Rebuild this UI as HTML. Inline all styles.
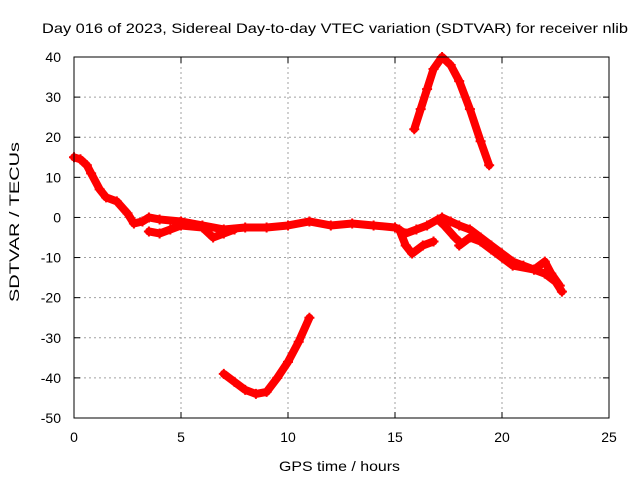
<!DOCTYPE html>
<html><head><meta charset="utf-8"><style>
body{margin:0;background:#fff}
svg{display:block;font-family:"Liberation Sans",sans-serif}
</style></head><body>
<svg id="c" width="640" height="480" xmlns="http://www.w3.org/2000/svg">
<text x="42" y="33" font-size="14" textLength="586" lengthAdjust="spacingAndGlyphs">Day 016 of 2023, Sidereal Day-to-day VTEC variation (SDTVAR) for receiver nlib</text>
<text x="279" y="471" font-size="14" textLength="121" lengthAdjust="spacingAndGlyphs">GPS time / hours</text>
<text transform="translate(19,302) rotate(-90)" font-size="14" textLength="160" lengthAdjust="spacingAndGlyphs">SDTVAR / TECUs</text>
<g id="grid"></g><g id="ticks"></g><g id="marks"></g>
<rect x="74" y="57" width="535" height="361" fill="none" stroke="#000" stroke-width="1"/>
</svg>
<script>
const xTicks=[0,5,10,15,20,25];
const yTicks=[40,30,20,10,0,-10,-20,-30,-40,-50];
const segMain=[[0,15],[0.3,14.5],[0.6,13],[0.8,11],[1.2,7],[1.5,5],[2,4],[2.5,1],[2.8,-1.5],[3.2,-1],[3.5,0],[4,-0.5],[5,-1],[6,-2],[7,-3],[8,-2.5],[9,-2.5],[10,-2],[11,-1],[12,-2],[13,-1.5],[14,-2],[15,-2.5],[15.5,-4],[16,-3],[16.5,-2],[17,-0.5],[17.3,-2],[17.8,-5],[18,-6]];
const segBranch=[[3.5,-3.5],[4,-4],[4.5,-3],[5,-2],[6,-2.5],[6.5,-5],[7,-4],[7.5,-3]];
const segDip=[[15.2,-3],[15.5,-7],[15.8,-9],[16.3,-7],[16.8,-6]];
const segLate=[[17.2,0],[17.6,-1],[18,-2],[18.5,-3],[19,-5],[19.5,-7],[20,-9],[20.5,-11],[21,-12],[21.5,-13],[22,-14],[22.5,-16],[22.8,-18.5]];
const segLate2=[[18,-7],[18.5,-5],[19,-6],[19.5,-8],[20,-10],[20.5,-12],[21.5,-13],[22,-11],[22.3,-14],[22.7,-17]];
const segUpper=[[15.9,22],[16.2,27],[16.5,32],[16.8,37],[17.2,40],[17.6,38],[18,34],[18.5,27],[19,19],[19.4,13]];
const segLower=[[7,-39],[7.5,-41],[8,-43],[8.5,-44],[9,-43.5],[9.5,-40],[10,-36],[10.5,-31],[11,-25]];
const segments=[segMain,segBranch,segDip,segLate,segLate2,segUpper,segLower];
const NS="http://www.w3.org/2000/svg";
const L=74,R=609,T=57,B=418;
const X=t=>L+(t-0)/25*(R-L);
const Y=v=>B-(v+50)/90*(B-T);
function el(n,a,p){const e=document.createElementNS(NS,n);for(const k in a)e.setAttribute(k,a[k]);p.appendChild(e);return e;}
const grid=document.getElementById('grid'),ticks=document.getElementById('ticks'),marks=document.getElementById('marks');
xTicks.forEach(t=>{const x=X(t);
 if(t>0&&t<25){const g=el('line',{x1:x,x2:x,y1:T,y2:B,stroke:'#a0a0a0','stroke-dasharray':'2,3'},grid);
 
 }
 el('line',{x1:x,x2:x,y1:B,y2:B-6,stroke:'#000'},ticks);el('line',{x1:x,x2:x,y1:T,y2:T+6,stroke:'#000'},ticks);
 const tx=el('text',{x:x,y:B+24,'font-size':14,'text-anchor':'middle'},ticks);tx.textContent=t;
 
 });
yTicks.forEach(v=>{const y=Y(v);
 if(v<40&&v>-50){const g=el('line',{x1:L,x2:R,y1:y,y2:y,stroke:'#a0a0a0','stroke-dasharray':'2,3'},grid);
 
 }
 el('line',{x1:L,x2:L+6,y1:y,y2:y,stroke:'#000'},ticks);el('line',{x1:R,x2:R-6,y1:y,y2:y,stroke:'#000'},ticks);
 const tx=el('text',{x:L-13,y:y+5,'font-size':14,'text-anchor':'end'},ticks);tx.textContent=v;
 
 });
segments.forEach(s=>{
 const p=el('polyline',{points:s.map(d=>X(d[0])+','+Y(d[1])).join(' '),fill:'none',stroke:'#ff0000','stroke-width':8,'stroke-linejoin':'round','stroke-linecap':'round'},marks);
 
 
 s.forEach(d=>{const x=X(d[0]),y=Y(d[1]);
  const m=el('path',{d:`M${x-5},${y}H${x+5}M${x},${y-5}V${y+5}`,stroke:'#ff0000','stroke-width':2},marks);
  
  });
});
</script>
</body></html>
